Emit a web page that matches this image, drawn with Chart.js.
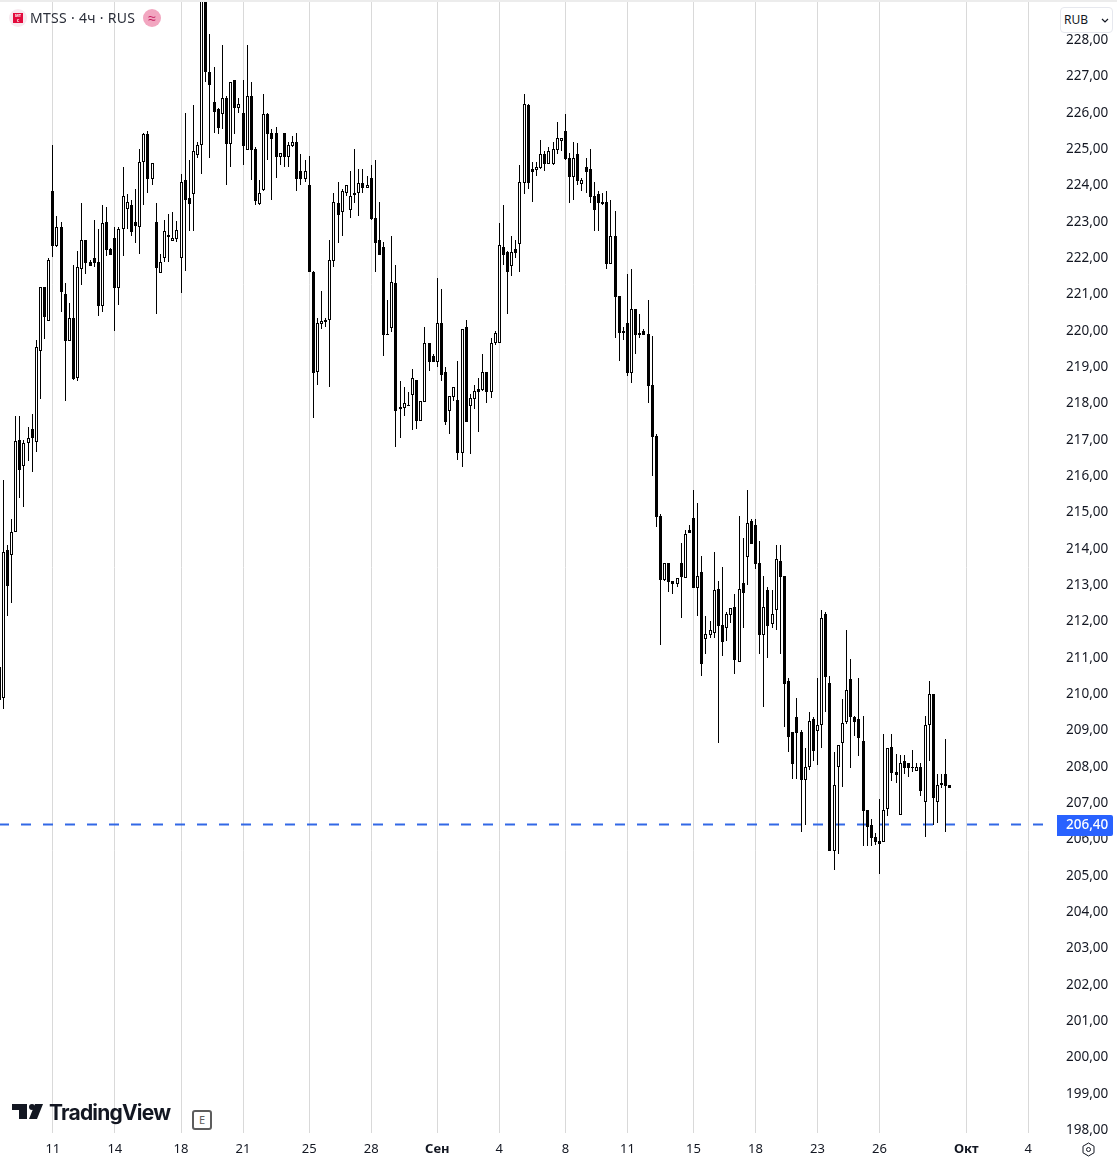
<!DOCTYPE html>
<html>
<head>
<meta charset="utf-8">
<title>MTSS</title>
<script src="https://cdn.jsdelivr.net/npm/chart.js@4/dist/chart.umd.min.js"></script>
<style>
html, body { margin: 0; padding: 0; background: #fff; overflow: hidden; }
#wrap { position: relative; width: 1117px; height: 1165px; font-family: "Noto Sans", sans-serif; color: #131722; }
#chartBox { position: absolute; left: 0; top: 0; width: 1117px; height: 1165px; }
#topBand { position: absolute; left: 0; top: 0; width: 1117px; height: 2px; background: #ececec; }
#logoBack { position: absolute; left: 9px; top: 9px; width: 18px; height: 18px; border-radius: 50%; background: #f7e9ef; }
#logoMts { position: absolute; left: 13px; top: 13px; width: 10px; height: 10px; background: #e30a3c; color: #fff; font-size: 4px; line-height: 5px; font-weight: 700; text-align: center; }
#title { position: absolute; left: 30px; top: 9px; font-size: 14px; line-height: 18px; letter-spacing: 0.3px; color: #2a2e39; white-space: nowrap; }
#status { position: absolute; left: 143px; top: 9px; width: 18px; height: 18px; border-radius: 50%; background: #f2a6c0; color: #c2185b; font-size: 14px; line-height: 17px; text-align: center; }
#currency { position: absolute; left: 1060px; top: 7px; width: 51px; height: 24px; background: #fff; border: 1px solid #e6e8ee; border-radius: 4px; font-size: 12px; line-height: 23px; text-indent: 3px; color: #131722; }
#currency svg { position: absolute; right: 3px; top: 10px; }
#tvLogo { position: absolute; left: 12px; top: 1104px; }
#tvName { position: absolute; left: 49px; top: 1098px; font-family: Inter, sans-serif; font-weight: 700; font-size: 21px; line-height: 30px; letter-spacing: -0.8px; color: #131722; white-space: nowrap; }
#earn { position: absolute; left: 192px; top: 1110px; width: 16px; height: 16px; border: 2px solid #5d5d5d; border-radius: 3px; background: #fff; color: #5d5d5d; font-size: 11px; line-height: 16px; text-align: center; }
#gear { position: absolute; left: 1081px; top: 1142px; }
</style>
</head>
<body>
<div id="wrap">
  <div id="chartBox"><canvas id="mtssChart" width="1117" height="1165"></canvas></div>
  <div id="topBand"></div>
  <div id="logoBack"></div>
  <div id="logoMts">МТ<br>С</div>
  <div id="title">MTSS · 4ч · RUS</div>
  <div id="status">≈</div>
  <div id="currency">RUB<svg width="8" height="5" viewBox="0 0 8 5"><path d="M1 1l3 3 3-3" fill="none" stroke="#131722" stroke-width="1.2"/></svg></div>
  <svg id="tvLogo" width="31" height="15" viewBox="0 0 31 15"><path d="M0 0h15v15H7V6H0z" fill="#131722"/><circle cx="20" cy="3" r="3" fill="#131722"/><path d="M23 0h8l-6 15h-8z" fill="#131722"/></svg>
  <div id="tvName">TradingView</div>
  <div id="earn">E</div>
  <svg id="gear" width="15" height="15" viewBox="0 0 15 15"><path d="M7.5 1l5.500 3.200v6.600L7.500 14 2 10.800V4.200z" fill="none" stroke="#131722"/><circle cx="7.5" cy="7.5" r="2" fill="none" stroke="#131722"/></svg>
</div>
<script>
const opens = [
  210.74,209.88,213.96,213.82,214.45,216.98,216.27,216.90,217.29,216.93,
  219.43,221.19,220.26,223.84,222.32,222.84,221.00,219.71,220.34,218.69,
  221.69,222.49,221.88,221.99,221.88,220.67,222.98,222.24,222.54,221.17,
  222.79,223.34,223.45,222.98,222.84,224.63,225.40,224.17,222.98,221.58,
  221.99,222.62,222.46,222.51,221.99,224.14,223.64,223.75,224.82,225.10,
  229.40,227.11,226.28,226.09,225.95,226.39,225.13,226.89,226.12,225.98,
  224.96,226.45,224.99,223.48,223.86,225.95,225.43,225.43,224.77,225.43,
  224.77,225.07,225.18,224.38,224.17,224.00,221.61,218.85,220.17,220.28,
  220.28,221.91,223.50,223.26,223.78,223.31,223.78,223.78,224.05,223.92,
  224.19,223.09,222.49,222.29,219.90,220.06,221.30,217.84,217.86,217.95,
  218.22,218.63,217.51,218.03,219.65,219.29,219.13,220.20,218.85,217.78,
  218.17,218.08,216.62,220.09,217.92,218.11,218.39,218.36,218.85,218.30,
  219.65,219.65,222.29,222.16,221.77,222.24,222.38,224.05,226.20,224.44,
  224.41,224.47,224.85,224.58,224.58,224.96,225.21,225.49,224.74,224.22,
  224.85,224.03,224.50,224.44,223.70,223.75,223.53,223.53,221.83,222.60,
  220.94,219.98,220.20,218.83,220.59,219.93,219.98,219.90,218.50,217.09,
  214.89,213.13,213.60,213.10,213.02,213.60,213.18,214.50,214.84,212.91,
  213.35,211.51,211.62,211.67,212.88,211.89,211.81,212.17,212.39,210.87,
  213.05,213.76,214.75,214.64,213.60,211.62,212.85,211.92,212.30,213.65,
  213.24,210.35,208.95,209.36,208.95,207.63,207.98,209.30,208.97,209.14,
  212.19,210.30,205.67,207.98,208.65,209.22,210.41,209.36,209.30,208.70,
  206.80,206.39,206.06,205.95,205.92,206.83,208.53,207.85,206.66,208.15,
  208.09,207.98,207.87,207.98,207.02,209.14,209.99,207.02,207.49,207.79,207.49
];
const highs = [
  210.74,215.88,214.09,214.80,217.64,217.64,216.98,217.34,217.70,219.73,
  221.19,221.19,221.99,225.10,223.15,222.98,221.30,220.75,221.80,222.18,
  223.50,222.49,221.94,223.04,222.79,223.45,223.39,222.27,222.84,222.84,
  224.50,223.75,223.59,223.89,224.99,225.43,225.49,224.60,223.50,222.10,
  223.04,223.20,223.26,223.01,224.30,225.98,224.69,226.20,225.18,229.60,
  229.80,228.15,227.25,226.12,227.85,226.45,226.83,226.89,226.39,226.89,
  227.85,226.83,225.05,224.14,226.50,225.98,225.54,225.60,224.88,225.43,
  225.18,225.35,225.43,224.85,224.69,224.80,221.63,220.34,221.08,220.34,
  222.49,223.78,224.08,223.89,224.00,224.38,224.99,224.44,224.44,224.25,
  224.55,224.69,223.53,222.43,220.83,222.60,221.80,218.61,218.44,218.30,
  218.94,218.63,218.06,220.09,219.65,219.35,221.44,221.14,218.99,218.19,
  218.44,219.16,220.04,220.28,218.25,218.50,218.69,219.35,218.85,219.79,
  219.98,222.95,223.45,222.18,222.60,222.49,224.55,226.50,226.23,224.63,
  224.63,225.24,224.94,225.05,225.18,225.73,225.29,225.95,224.88,225.18,
  225.16,224.19,224.74,224.99,224.08,223.84,223.78,223.84,223.59,223.28,
  220.94,220.09,221.55,221.69,220.59,220.45,220.04,220.83,219.84,217.15,
  214.95,213.60,213.60,213.10,213.18,214.15,214.50,214.64,215.61,215.25,
  213.79,212.14,212.00,213.90,213.10,213.49,212.25,212.36,212.74,214.89,
  214.29,215.61,214.80,214.80,214.20,213.24,212.94,212.85,214.09,214.09,
  213.24,210.43,208.95,209.88,209.00,208.50,209.50,209.36,210.43,212.30,
  212.25,210.49,208.40,208.59,209.85,211.75,210.96,209.39,210.43,209.39,
  206.80,206.55,206.17,207.10,208.89,208.50,208.89,208.34,208.31,208.31,
  208.09,208.45,208.09,208.09,209.39,210.35,209.99,207.79,207.79,208.75,207.49
];
const lows = [
  209.66,209.58,212.14,212.50,214.45,215.39,215.14,216.40,216.10,216.65,
  218.11,219.76,220.26,222.02,222.29,220.51,218.06,219.71,218.63,218.61,
  221.25,221.55,221.77,221.74,220.39,220.51,222.05,222.07,219.98,220.70,
  222.05,222.79,222.60,222.40,222.10,223.45,223.78,224.00,220.45,221.58,
  221.88,221.88,222.46,222.43,221.03,221.63,222.73,222.73,224.74,224.30,
  226.83,224.74,225.43,225.40,225.54,224.00,224.50,225.40,225.98,224.55,
  224.96,224.14,223.45,223.45,223.84,224.69,223.59,224.19,224.55,224.50,
  224.50,225.05,223.84,224.00,224.08,221.61,217.59,218.50,220.04,220.09,
  218.44,221.74,222.40,222.60,223.70,223.09,223.50,223.15,223.78,223.92,
  223.04,221.61,222.07,219.29,219.87,219.95,216.79,217.04,217.64,217.92,
  217.26,217.29,217.51,218.03,218.88,219.13,218.99,218.61,217.39,217.15,
  218.06,216.43,216.24,217.48,216.60,217.84,217.20,218.33,218.00,218.14,
  219.60,219.65,221.80,220.45,221.50,221.99,221.61,223.75,223.89,223.53,
  224.25,224.44,224.38,224.58,224.55,224.85,224.94,224.69,223.50,223.59,
  224.00,223.84,223.78,223.50,222.73,222.73,223.45,221.69,221.83,219.79,
  219.16,219.73,218.74,218.55,219.35,219.79,219.87,218.00,215.99,214.59,
  211.34,213.10,212.80,212.74,212.94,212.08,213.18,214.42,212.91,212.14,
  210.49,211.09,211.53,211.53,208.65,211.04,211.45,211.95,210.54,210.87,
  211.81,212.99,214.12,213.43,211.09,209.64,210.98,211.81,211.75,211.09,
  209.08,208.40,207.65,207.65,206.20,206.39,207.90,208.15,208.04,208.50,
  209.50,205.67,205.15,205.59,207.43,209.17,207.96,208.84,208.29,205.81,
  205.81,205.81,205.84,205.04,205.92,206.63,207.60,207.54,206.66,207.79,
  207.71,207.85,207.87,207.19,206.06,208.15,206.39,206.44,207.41,206.20,207.41
];
const closes = [
  209.83,213.90,212.96,214.45,216.96,216.16,216.90,217.04,217.04,219.54,
  221.19,220.37,221.94,222.32,222.84,221.06,219.71,220.34,218.66,221.74,
  222.49,221.85,221.77,221.85,220.67,222.95,222.21,222.07,221.17,222.79,
  223.70,223.53,222.70,222.87,224.63,225.40,224.17,224.60,221.72,221.88,
  222.73,222.57,222.54,222.76,224.08,223.59,223.48,224.94,225.10,229.40,
  227.11,226.75,226.01,225.57,226.39,225.13,226.83,226.12,226.23,225.07,
  226.45,224.96,223.56,223.78,225.95,225.40,225.27,224.77,224.88,224.77,
  225.10,225.18,224.17,224.17,224.38,221.61,218.83,220.20,220.26,220.23,
  221.94,223.53,223.17,223.84,224.00,223.70,223.72,224.05,223.92,224.00,
  223.06,222.40,222.07,219.87,219.87,221.33,217.78,217.89,218.00,217.92,
  218.69,217.51,218.06,219.65,219.13,219.13,220.20,218.77,217.48,218.19,
  218.44,216.62,220.04,217.48,218.14,218.33,218.30,218.85,218.30,219.65,
  219.93,222.35,222.07,221.61,222.16,222.13,224.08,226.23,224.05,224.36,
  224.50,224.85,224.58,224.94,224.99,225.29,225.29,224.71,224.22,224.74,
  224.11,224.14,224.36,223.67,223.31,223.50,223.48,221.83,222.60,220.92,
  219.93,219.93,218.83,220.59,219.87,219.87,219.87,218.47,217.07,214.86,
  213.13,213.60,213.07,213.02,213.18,213.21,214.39,214.42,212.91,213.24,
  210.82,211.64,211.75,212.85,211.87,211.42,212.19,212.36,210.93,212.88,
  212.77,214.70,214.12,213.57,211.62,212.39,211.87,212.19,213.71,213.21,
  210.27,208.81,208.07,208.92,207.63,207.98,209.25,208.42,209.14,212.08,
  210.46,205.67,207.49,208.59,209.19,210.10,209.36,209.22,208.78,206.77,
  206.33,206.03,205.92,205.87,206.80,208.50,207.82,207.76,208.09,207.96,
  207.96,207.96,207.98,207.32,209.14,209.99,207.13,207.49,207.54,207.46,207.41
];

const xTickIndex = [13, 28, 44, 59, 75, 90, 106, 121, 137, 152, 168, 183, 198, 213, 234, 249];
const xTickLabels = ['11', '14', '18', '21', '25', '28', 'Сен', '4', '8', '11', '15', '18', '23', '26', 'Окт', '4'];
const monthLabels = ['Сен', 'Окт'];
const priceTicks = [198, 199, 200, 201, 202, 203, 204, 205, 206, 207, 208, 209, 210, 211, 212, 213,
  214, 215, 216, 217, 218, 219, 220, 221, 222, 223, 224, 225, 226, 227, 228];
const lastPrice = 206.40;

const xMin = 0.21, xMax = 255.45;
const yMin = 197.913, yMax = 229.036;
const axisFont = '"Noto Sans", sans-serif';
const priceText = v => v.toFixed(2).replace('.', ',');

// labels may overflow the plot, so the axes must not shrink it
const noAxisPadding = axis => {
  axis.paddingLeft = axis.paddingRight = axis.paddingTop = axis.paddingBottom = 0;
};

// TradingView snaps every candle to whole pixels, Chart.js does not
const snapBars = {
  id: 'snapBars',
  afterDatasetsUpdate(chart) {
    chart.data.datasets.forEach((ds, i) => {
      if (!ds.candleWidth) return;
      chart.getDatasetMeta(i).data.forEach(el => {
        el.x = Math.floor(el.x) + 0.5;
        el.width = ds.candleWidth;
        const top = Math.round(Math.min(el.y, el.base));
        let bottom = Math.round(Math.max(el.y, el.base));
        if (bottom === top) bottom = top + 1;
        el.y = top;
        el.base = bottom;
      });
    });
  }
};

const priceTag = {
  id: 'priceTag',
  afterDraw(chart) {
    const ctx = chart.ctx;
    const y = Math.round(chart.scales.y.getPixelForValue(lastPrice));
    ctx.save();
    ctx.fillStyle = '#2962ff';
    ctx.beginPath();
    ctx.roundRect(1057, y - 10, 56, 21, [0, 2, 2, 0]);
    ctx.fill();
    ctx.fillStyle = '#fff';
    ctx.font = '500 13.5px ' + axisFont;
    ctx.textAlign = 'left';
    ctx.textBaseline = 'middle';
    ctx.fillText(priceText(lastPrice), 1066, y);
    ctx.restore();
  }
};

new Chart(document.getElementById('mtssChart'), {
  data: {
    datasets: [{
      type: 'bar',
      label: 'body',
      candleWidth: 3,
      data: opens.map((o, i) => ({ x: i, y: [o, closes[i]] })),
      backgroundColor: opens.map((o, i) => closes[i] >= o ? '#ffffff' : '#000000'),
      borderColor: '#000000',
      borderWidth: 1,
      borderSkipped: false,
      inflateAmount: 0,
      grouped: false
    }, {
      type: 'bar',
      label: 'wick',
      candleWidth: 1,
      data: lows.map((l, i) => ({ x: i, y: [l, highs[i]] })),
      backgroundColor: '#000000',
      borderWidth: 0,
      inflateAmount: 0,
      grouped: false
    }, {
      type: 'line',
      label: 'last',
      data: [{ x: xMin, y: lastPrice }, { x: xMax, y: lastPrice }],
      borderColor: '#3268e6',
      borderWidth: 2,
      borderDash: [10, 12],
      borderDashOffset: 1,
      pointRadius: 0
    }]
  },
  options: {
    responsive: false,
    animation: false,
    events: [],
    layout: { autoPadding: false, padding: { top: 2, left: 0, right: 0, bottom: 0 } },
    plugins: { legend: { display: false }, tooltip: { enabled: false } },
    scales: {
      x: {
        type: 'linear',
        offset: false,
        min: xMin,
        max: xMax,
        afterBuildTicks: axis => { axis.ticks = xTickIndex.map(v => ({ value: v })); },
        afterFit: axis => { axis.height = 32; noAxisPadding(axis); },
        border: { display: false },
        grid: { offset: false, color: '#d9d9d9', lineWidth: 1, drawTicks: false },
        ticks: {
          autoSkip: false,
          maxRotation: 0,
          padding: 8,
          color: '#131722',
          callback: v => xTickLabels[xTickIndex.indexOf(v)],
          font: ctx => ({
            family: axisFont,
            size: 13,
            weight: ctx.tick && monthLabels.includes(xTickLabels[xTickIndex.indexOf(ctx.tick.value)]) ? '700' : '400'
          })
        }
      },
      y: {
        position: 'right',
        min: yMin,
        max: yMax,
        afterBuildTicks: axis => { axis.ticks = priceTicks.map(v => ({ value: v })); },
        afterFit: axis => { axis.width = 62; noAxisPadding(axis); },
        border: { display: false },
        grid: { display: false, drawTicks: false },
        ticks: {
          autoSkip: false,
          padding: 11,
          labelOffset: 0.4,
          color: '#131722',
          font: { family: axisFont, size: 13.5 },
          callback: v => priceText(v)
        }
      }
    }
  },
  plugins: [snapBars, priceTag]
});
</script>
</body>
</html>
